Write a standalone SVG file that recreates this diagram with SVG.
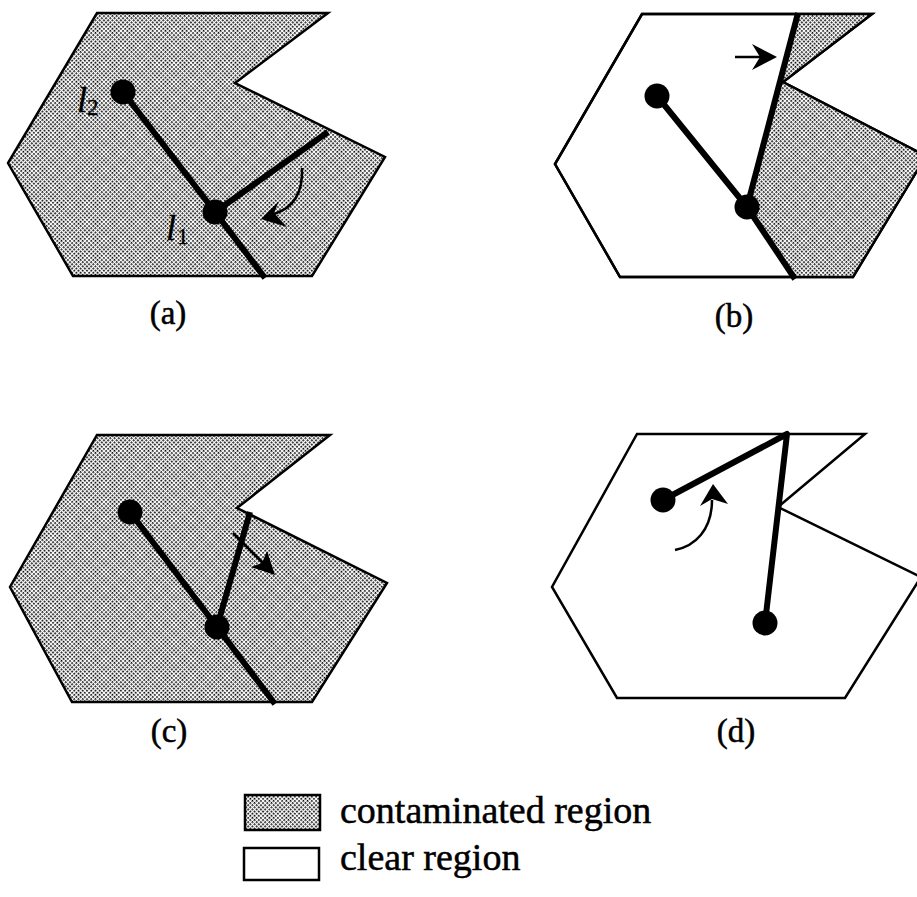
<svg xmlns="http://www.w3.org/2000/svg" width="917" height="897" viewBox="0 0 917 897">
<defs>
<pattern id="stip" width="3" height="3" patternUnits="userSpaceOnUse" patternTransform="rotate(45)">
<rect width="3" height="3" fill="#ffffff"/>
<rect width="1.7" height="1.7" fill="#000000"/>
</pattern>
</defs>
<style>
.poly{stroke:#000;stroke-width:2.5;stroke-linejoin:miter}
.cont{fill:url(#stip)}
.clear{fill:#fff}
.shade{fill:url(#stip);stroke:none}
.rob{stroke:#000;stroke-width:6;fill:none;stroke-linecap:butt;stroke-linejoin:round}
.dot{fill:#000}
.thin{stroke:#000;stroke-width:2.5;fill:none}
.head{fill:#000;stroke:none}
.cap{font-family:"Liberation Serif","Times New Roman",serif;font-size:33px;text-anchor:middle;fill:#000;stroke:#000;stroke-width:0.5}
.lab{font-family:"Liberation Serif","Times New Roman",serif;font-style:italic;font-size:36px;fill:#000;stroke:#000;stroke-width:0.4}
.sub{font-family:"Liberation Serif","Times New Roman",serif;font-size:23px;fill:#000;stroke:#000;stroke-width:0.3}
.leg{font-family:"Liberation Serif","Times New Roman",serif;font-size:38px;fill:#000;stroke:#000;stroke-width:0.5}
</style>

<g id="panel-a">
<polygon class="poly cont" points="97,13 328,13 235,83 385,157 312,276 73,276 8,163"/>
<polyline class="rob" points="123,92 215,212 265,278"/>
<line class="rob" x1="215" y1="212" x2="328" y2="132"/>
<circle class="dot" cx="123" cy="92" r="12.5"/>
<circle class="dot" cx="215" cy="212" r="12.5"/>
<path class="thin" d="M302,168 C303,190 296,207 274,214"/>
<path class="head" d="M261,219 L279,201 L274,213 L287,227 Z"/>
<text class="lab" x="77" y="112">l</text><text class="sub" x="87" y="115">2</text>
<text class="lab" x="166" y="240">l</text><text class="sub" x="177" y="244">1</text>
<text class="cap" x="168" y="324">(a)</text>
</g>

<g id="panel-b">
<polygon class="poly clear" points="642,14 872,14 783,82 926,156 853,277 620,277 555,164"/>
<polygon class="shade" points="798,14 872,14 783,82 926,156 853,277 795,277 747,207"/>
<polygon class="poly" fill="none" points="642,14 872,14 783,82 926,156 853,277 620,277 555,164"/>
<polyline class="rob" points="657,96 747,207 795,279"/>
<line class="rob" x1="747" y1="207" x2="798" y2="13"/>
<circle class="dot" cx="657" cy="96" r="12.5"/>
<circle class="dot" cx="747" cy="207" r="12.5"/>
<line class="thin" x1="735" y1="57" x2="762" y2="57"/>
<path class="head" d="M777,57 L752,44 L760,57 L752,70 Z"/>
<text class="cap" x="734" y="327">(b)</text>
</g>

<g id="panel-c">
<polygon class="poly cont" points="97,435 330,435 237,508 387,583 312,702 72,702 10,587"/>
<polyline class="rob" points="130,512 217,627 275,704"/>
<line class="rob" x1="217" y1="627" x2="250" y2="512"/>
<circle class="dot" cx="130" cy="512" r="12.5"/>
<circle class="dot" cx="217" cy="627" r="12.5"/>
<line class="thin" x1="233" y1="533" x2="264" y2="564"/>
<path class="head" d="M275,575 L251,567 L262,563 L267,551 Z"/>
<text class="cap" x="169" y="742">(c)</text>
</g>

<g id="panel-d">
<polygon class="poly clear" points="637,434 865,434 778,507 921,577 845,698 617,698 552,587"/>
<polyline class="rob" points="663,500 787,434 765,623"/>
<circle class="dot" cx="663" cy="500" r="12.5"/>
<circle class="dot" cx="765" cy="623" r="12.5"/>
<path class="thin" d="M675,550 C695,546 712,530 712,500"/>
<path class="head" d="M713,484 L700,506 L712,499 L728,504 Z"/>
<text class="cap" x="736" y="742">(d)</text>
</g>

<g id="legend">
<rect class="poly cont" x="245" y="795" width="75" height="35"/>
<text class="leg" x="340" y="823">contaminated region</text>
<rect class="poly clear" x="244" y="848" width="75" height="32"/>
<text class="leg" x="340" y="870">clear region</text>
</g>
</svg>
